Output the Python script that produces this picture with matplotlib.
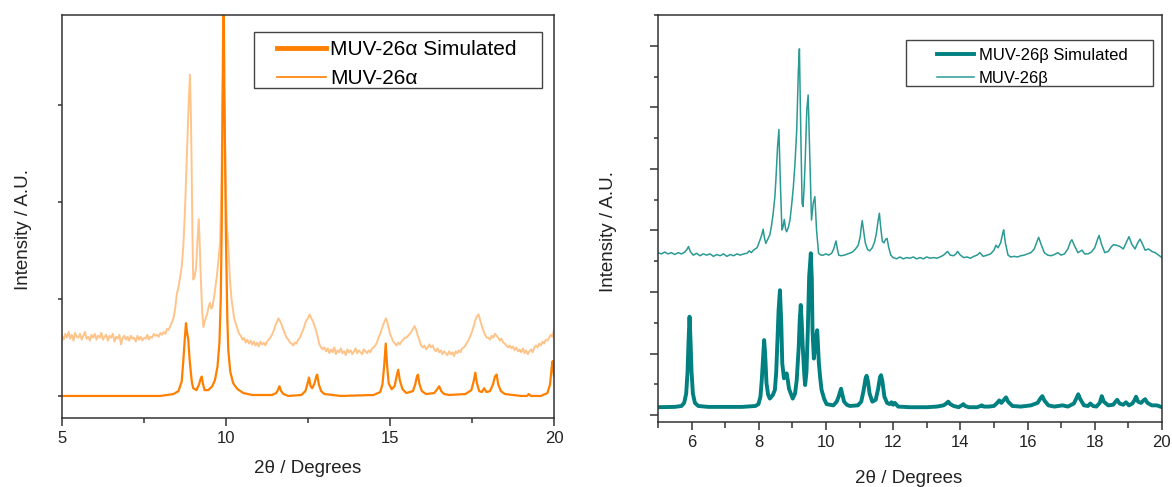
import matplotlib
matplotlib.use("Agg")
import matplotlib.pyplot as plt
from matplotlib.ticker import MultipleLocator
from matplotlib.patches import Rectangle

plt.rcParams['font.family'] = ['Liberation Sans', 'DejaVu Sans']

# ---- MUV-26 alpha (left panel) ----
alpha_sim_x = [5.0, 8.0, 8.4, 8.55, 8.65, 8.7, 8.75, 8.78, 8.81, 8.85, 8.89, 8.92, 8.96, 9.0, 9.1,
               9.18, 9.22, 9.26, 9.3, 9.35, 9.46, 9.58, 9.66, 9.74, 9.8, 9.84, 9.87, 9.9, 9.925,
               9.95, 9.98, 10.0, 10.04, 10.07, 10.13, 10.22, 10.35, 10.53, 10.8, 11.4, 11.53, 11.58,
               11.63, 11.68, 11.75, 11.9, 12.3, 12.42, 12.48, 12.53, 12.58, 12.63, 12.7, 12.75,
               12.78, 12.83, 12.9, 13.0, 13.5, 14.5, 14.7, 14.77, 14.82, 14.87, 14.91, 14.96, 15.05,
               15.14, 15.2, 15.25, 15.3, 15.38, 15.5, 15.7, 15.77, 15.82, 15.85, 15.9, 15.97, 16.1,
               16.35, 16.44, 16.5, 16.56, 16.65, 16.8, 17.3, 17.48, 17.55, 17.6, 17.65, 17.72, 17.8,
               17.87, 17.94, 18.05, 18.14, 18.2, 18.25, 18.3, 18.38, 18.5, 19.0, 19.18, 19.23, 19.3,
               19.6, 19.8, 19.88, 19.93, 19.96, 20.0]
alpha_sim_y = [0.0, 0.0, 0.02, 0.05, 0.15, 0.37, 0.62, 0.75, 0.66, 0.58, 0.38, 0.27, 0.14, 0.08, 0.06,
               0.12, 0.17, 0.2, 0.12, 0.06, 0.06, 0.1, 0.16, 0.3, 0.55, 1.0, 1.75, 3.2, 4.3,
               3.2, 2.2, 1.6, 0.8, 0.47, 0.25, 0.13, 0.07, 0.03, 0.01, 0.01, 0.03, 0.06,
               0.1, 0.05, 0.02, 0.0, 0.01, 0.05, 0.12, 0.19, 0.1, 0.08, 0.13, 0.2,
               0.22, 0.12, 0.05, 0.02, 0.0, 0.01, 0.04, 0.12, 0.3, 0.54, 0.32, 0.13, 0.07,
               0.1, 0.2, 0.27, 0.16, 0.07, 0.03, 0.05, 0.12, 0.2, 0.22, 0.12, 0.05, 0.02,
               0.03, 0.07, 0.1, 0.05, 0.02, 0.01, 0.02, 0.06, 0.15, 0.24, 0.13, 0.05, 0.04,
               0.08, 0.04, 0.05, 0.12, 0.2, 0.22, 0.12, 0.05, 0.02, 0.0, 0.0, 0.02, 0.0,
               0.0, 0.03, 0.12, 0.3, 0.36, 0.2]

alpha_exp_x = [5.0, 5.05, 5.1, 5.15, 5.2, 5.25, 5.3, 5.35, 5.4, 5.45, 5.5, 5.55, 5.6, 5.65, 5.7, 5.75,
               5.8, 5.85, 5.9, 5.95, 6.0, 6.05, 6.1, 6.15, 6.2, 6.25, 6.3, 6.35, 6.4, 6.45, 6.5, 6.55,
               6.6, 6.65, 6.7, 6.75, 6.8, 6.85, 6.9, 6.95, 7.0, 7.05, 7.1, 7.15, 7.2, 7.25, 7.3, 7.35,
               7.4, 7.45, 7.5, 7.55, 7.6, 7.65, 7.7, 7.75, 7.8, 7.85, 7.9, 7.95, 8.0,
               8.05, 8.1, 8.15, 8.2, 8.25, 8.3, 8.35, 8.4, 8.45, 8.5, 8.55, 8.6, 8.65, 8.7, 8.75,
               8.79, 8.82, 8.86, 8.9, 8.93, 8.95, 8.98, 9.0, 9.04, 9.09, 9.13, 9.17, 9.2, 9.23, 9.27,
               9.31, 9.36, 9.43, 9.47, 9.51, 9.55, 9.59, 9.65, 9.72, 9.77, 9.82, 9.86, 9.89, 9.92,
               9.95, 9.99, 10.03, 10.07, 10.12, 10.17, 10.25, 10.33, 10.4, 10.45, 10.5, 10.55, 10.6,
               10.65, 10.7, 10.75, 10.8, 10.85, 10.9, 10.95, 11.0, 11.05, 11.1, 11.15, 11.2, 11.25,
               11.3, 11.35, 11.4, 11.45, 11.5, 11.55, 11.6, 11.65, 11.7, 11.75, 11.8, 11.85, 11.9,
               11.95, 12.0, 12.05, 12.1, 12.15, 12.2, 12.25, 12.3, 12.35, 12.4, 12.45, 12.5, 12.55,
               12.6, 12.65, 12.7, 12.75, 12.8, 12.85, 12.9, 12.95, 13.0,
               13.05, 13.1, 13.15, 13.2, 13.25, 13.3, 13.35, 13.4, 13.45, 13.5, 13.55, 13.6, 13.65,
               13.7, 13.75, 13.8, 13.85, 13.9, 13.95, 14.0, 14.05, 14.1, 14.15, 14.2, 14.25, 14.3,
               14.35, 14.4, 14.45, 14.5,
               14.55, 14.6, 14.65, 14.7, 14.75, 14.8, 14.85, 14.88, 14.92, 14.96, 15.0, 15.05, 15.1,
               15.15, 15.2, 15.25, 15.3, 15.35, 15.4, 15.45, 15.5, 15.55, 15.6, 15.65, 15.7, 15.75,
               15.8, 15.85, 15.9, 15.95, 16.0, 16.05, 16.1, 16.15, 16.2, 16.25, 16.3, 16.35, 16.4,
               16.45, 16.5, 16.55, 16.6, 16.65, 16.7, 16.75, 16.8, 16.85, 16.9, 16.95, 17.0, 17.05,
               17.1, 17.15, 17.2, 17.25, 17.3, 17.35, 17.4, 17.45, 17.5, 17.55, 17.6, 17.65, 17.7,
               17.75, 17.8, 17.85, 17.9, 17.95, 18.0, 18.05, 18.1, 18.15, 18.2, 18.25, 18.3, 18.35,
               18.4, 18.45, 18.5, 18.55, 18.6, 18.65, 18.7, 18.75, 18.8, 18.85, 18.9, 18.95, 19.0,
               19.05, 19.1, 19.15, 19.2, 19.25, 19.3, 19.35, 19.4, 19.45, 19.5, 19.55, 19.6, 19.65,
               19.7, 19.75, 19.8, 19.85, 19.9, 19.95, 20.0]
alpha_exp_y = [0.62, 0.58, 0.64, 0.6, 0.66, 0.59, 0.63, 0.57, 0.65, 0.61, 0.6, 0.64, 0.58, 0.62, 0.66, 0.59,
               0.61, 0.57, 0.63, 0.6, 0.64, 0.58, 0.62, 0.6, 0.65, 0.58, 0.61, 0.63, 0.57, 0.62, 0.6, 0.64,
               0.56, 0.61, 0.59, 0.63, 0.53, 0.6, 0.62, 0.58, 0.61, 0.57, 0.62, 0.59, 0.6, 0.56, 0.62, 0.58,
               0.61, 0.57, 0.6, 0.59, 0.63, 0.58, 0.61, 0.6, 0.64, 0.62, 0.63, 0.61, 0.65,
               0.63, 0.66, 0.64, 0.69, 0.68, 0.72, 0.76, 0.8, 0.9, 1.05, 1.12, 1.22, 1.33, 1.55, 1.92,
               2.3, 2.6, 3.0, 3.31, 2.9, 2.43, 1.6, 1.2, 1.22, 1.33, 1.6, 1.82, 1.55, 1.23, 0.9,
               0.71, 0.78, 0.85, 0.92, 0.96, 0.9, 0.92, 1.05, 1.23, 1.4, 1.58, 2.2, 3.0, 3.5,
               3.0, 2.2, 1.75, 1.54, 1.2, 0.99, 0.8, 0.71, 0.64, 0.62, 0.58, 0.6, 0.55,
               0.58, 0.54, 0.57, 0.53, 0.56, 0.52, 0.55, 0.51, 0.56, 0.53, 0.55, 0.52, 0.56,
               0.58, 0.6, 0.63, 0.67, 0.72, 0.76, 0.8, 0.77, 0.73, 0.68, 0.64, 0.6, 0.58,
               0.55, 0.54, 0.52, 0.55, 0.54, 0.58, 0.6, 0.64, 0.68, 0.73, 0.78, 0.8, 0.84,
               0.8, 0.77, 0.72, 0.67, 0.6, 0.53, 0.5, 0.48, 0.5,
               0.46, 0.49, 0.44, 0.48, 0.45, 0.5, 0.43, 0.47, 0.45, 0.49, 0.44, 0.46, 0.42,
               0.48, 0.45, 0.47, 0.43, 0.46, 0.49, 0.44, 0.47, 0.45, 0.43, 0.48, 0.46, 0.44,
               0.47, 0.45, 0.49, 0.5,
               0.52, 0.55, 0.6, 0.64, 0.69, 0.74, 0.78, 0.8, 0.76, 0.7, 0.64, 0.6, 0.56,
               0.54, 0.52, 0.55, 0.53, 0.56, 0.58, 0.6, 0.6, 0.62, 0.64, 0.66, 0.69, 0.72,
               0.68, 0.62, 0.57, 0.52, 0.5, 0.52, 0.48, 0.5, 0.53, 0.5, 0.52, 0.48, 0.46,
               0.49, 0.45, 0.47, 0.43, 0.46, 0.44, 0.42, 0.46, 0.43, 0.45, 0.41, 0.46, 0.44,
               0.47, 0.45, 0.49, 0.5, 0.52, 0.55, 0.58, 0.62, 0.66, 0.72, 0.78, 0.82, 0.84,
               0.78, 0.72, 0.67, 0.63, 0.6, 0.6, 0.58, 0.62, 0.6, 0.64, 0.62, 0.6, 0.57,
               0.59, 0.55, 0.54, 0.52, 0.5, 0.52, 0.49, 0.51, 0.47, 0.5, 0.46, 0.48, 0.45,
               0.49, 0.44, 0.47, 0.43, 0.46, 0.48, 0.45, 0.5, 0.52, 0.5, 0.54, 0.52, 0.56,
               0.54, 0.58, 0.57, 0.6, 0.63, 0.61, 0.68]

# ---- MUV-26 beta (right panel) ----
beta_sim_x = [5.0, 5.5, 5.7, 5.78, 5.84, 5.88, 5.91, 5.94, 5.97, 6.0, 6.04, 6.1, 6.2, 6.5, 7.5, 7.9,
              7.99, 8.05, 8.09, 8.13, 8.16, 8.19, 8.23, 8.28, 8.33, 8.42, 8.48, 8.52, 8.55, 8.59, 8.63,
              8.67, 8.7, 8.75, 8.79, 8.83, 8.87, 8.9, 9.01, 9.08, 9.13, 9.19, 9.22, 9.25, 9.28, 9.31,
              9.35, 9.38, 9.42, 9.46, 9.5, 9.55, 9.58, 9.6, 9.64, 9.69, 9.74, 9.79, 9.83, 9.87, 9.95,
              10.02, 10.22, 10.32, 10.37, 10.45, 10.49, 10.54, 10.62, 10.71, 10.95, 11.05, 11.12,
              11.18, 11.21, 11.25, 11.3, 11.38, 11.48, 11.55, 11.61, 11.64, 11.68, 11.74, 11.82,
              11.9, 11.95, 12.0, 12.05, 12.15, 12.5, 13.0, 13.3, 13.5, 13.58, 13.64, 13.7, 13.8,
              13.95, 14.04, 14.09, 14.14, 14.25, 14.5, 14.6, 14.64, 14.7, 14.85, 15.0, 15.08, 15.16,
              15.22, 15.3, 15.36, 15.42, 15.55, 15.8, 16.1, 16.3, 16.38, 16.44, 16.5, 16.62, 16.8,
              17.04, 17.2, 17.38, 17.46, 17.51, 17.57, 17.68, 17.8, 17.87, 17.95, 18.05, 18.15,
              18.21, 18.27, 18.4, 18.55, 18.62, 18.67, 18.74, 18.85, 18.93, 19.02, 19.12, 19.18,
              19.23, 19.29, 19.38, 19.45, 19.5, 19.57, 19.7, 19.85, 20.0]
beta_sim_y = [0.13, 0.135, 0.15, 0.2, 0.35, 0.7, 1.2, 1.6, 1.2, 0.7, 0.35, 0.2, 0.15, 0.135, 0.135, 0.15,
              0.18, 0.3, 0.57, 0.95, 1.22, 1.0, 0.52, 0.33, 0.27, 0.33, 0.41, 0.7, 1.11, 1.7, 2.03,
              1.5, 0.84, 0.6, 0.64, 0.68, 0.55, 0.43, 0.27, 0.35, 0.57, 1.11, 1.55, 1.79, 1.5, 1.11,
              0.7, 0.49, 0.7, 1.38, 2.25, 2.63, 2.2, 1.38, 0.92, 1.2, 1.38, 0.84, 0.6, 0.41, 0.26,
              0.18, 0.16, 0.22, 0.29, 0.43, 0.33, 0.22, 0.17, 0.15, 0.16, 0.22, 0.4,
              0.6, 0.64, 0.55, 0.35, 0.22, 0.25, 0.42, 0.62, 0.65, 0.55, 0.3, 0.2,
              0.18, 0.21, 0.17, 0.2, 0.14, 0.13, 0.13, 0.14, 0.16, 0.19, 0.22, 0.18, 0.15,
              0.13, 0.16, 0.18, 0.15, 0.13, 0.13, 0.15, 0.16, 0.14, 0.14, 0.15, 0.19, 0.24,
              0.2, 0.25, 0.29, 0.22, 0.15, 0.14, 0.16, 0.2, 0.27, 0.31, 0.24, 0.16, 0.14,
              0.16, 0.14, 0.19, 0.28, 0.34, 0.26, 0.16, 0.15, 0.19, 0.15, 0.14, 0.2,
              0.31, 0.22, 0.16, 0.17, 0.22, 0.25, 0.19, 0.17, 0.21, 0.16, 0.19, 0.24,
              0.3, 0.22, 0.2, 0.24, 0.26, 0.2, 0.16, 0.16, 0.13]

beta_exp_x = [5.0, 5.1, 5.2, 5.3, 5.4, 5.5, 5.6, 5.7, 5.8, 5.87, 5.91, 5.96, 6.05, 6.15, 6.25, 6.35,
              6.45, 6.55, 6.65, 6.75, 6.85, 6.95, 7.05, 7.15, 7.25, 7.35, 7.45, 7.55, 7.65, 7.72, 7.78,
              7.84, 7.95, 8.04, 8.09, 8.13, 8.17, 8.21, 8.27, 8.33, 8.38, 8.43, 8.48, 8.51, 8.56, 8.6,
              8.64, 8.67, 8.69, 8.72, 8.76, 8.8, 8.83, 8.88, 8.93, 8.98, 9.03, 9.08, 9.13, 9.18, 9.21,
              9.25, 9.29, 9.32, 9.35, 9.38, 9.43, 9.47, 9.52, 9.57, 9.62, 9.67, 9.72, 9.78, 9.85, 9.92,
              10.0, 10.08, 10.17, 10.23, 10.3, 10.34, 10.38, 10.45, 10.55, 10.65, 10.75, 10.81, 10.88,
              10.96, 11.02, 11.05, 11.08, 11.12, 11.17, 11.24, 11.3, 11.38, 11.45, 11.5, 11.55, 11.59,
              11.63, 11.68, 11.73, 11.78, 11.82, 11.87, 11.93, 12.0, 12.1, 12.2, 12.3, 12.4, 12.5,
              12.6, 12.7, 12.8, 12.9, 13.0, 13.1, 13.2, 13.3, 13.4, 13.5, 13.56, 13.62, 13.7, 13.8,
              13.87, 13.92, 14.0, 14.1, 14.2, 14.3, 14.4, 14.5, 14.58, 14.68, 14.8, 14.9, 15.0,
              15.06, 15.12, 15.2, 15.26, 15.29, 15.34, 15.42, 15.5, 15.6, 15.7, 15.8, 15.9, 16.0,
              16.1, 16.2, 16.28, 16.33, 16.4, 16.5, 16.6, 16.7, 16.8, 16.9, 17.0, 17.1, 17.2, 17.28,
              17.32, 17.4, 17.5, 17.62, 17.7, 17.8, 17.9, 18.0, 18.08, 18.13, 18.2, 18.3, 18.4,
              18.5, 18.56, 18.65, 18.75, 18.85, 18.95, 19.02, 19.1, 19.2, 19.28, 19.35, 19.42, 19.5,
              19.6, 19.7, 19.8, 19.9, 20.0]
beta_exp_y = [2.64, 2.62, 2.65, 2.62, 2.64, 2.61, 2.64, 2.62, 2.65, 2.7, 2.74, 2.66, 2.6, 2.63, 2.59, 2.62,
              2.6, 2.62, 2.58, 2.61, 2.59, 2.62, 2.58, 2.61, 2.59, 2.62, 2.6, 2.62, 2.63, 2.67, 2.64,
              2.68, 2.72, 2.85, 2.93, 3.02, 2.88, 2.79, 2.86, 2.93, 3.08, 3.28, 3.55, 3.82, 4.36, 4.64,
              3.82, 3.3, 3.01, 3.05, 3.18, 3.02, 2.98, 3.05, 3.17, 3.42, 3.71, 4.1, 4.63, 5.61, 5.95,
              4.63, 3.44, 3.39, 3.7, 4.09, 4.96, 5.2, 4.2, 3.17, 3.44, 3.55, 3.01, 2.63, 2.6, 2.6,
              2.62, 2.6, 2.63, 2.7, 2.83, 2.7, 2.6, 2.59, 2.6, 2.62, 2.64, 2.66, 2.7,
              2.76, 2.9, 3.05, 3.16, 3.0, 2.8, 2.69, 2.67, 2.72, 2.82, 2.95, 3.15, 3.28,
              3.05, 2.82, 2.8, 2.86, 2.87, 2.72, 2.6, 2.56, 2.54, 2.57, 2.54, 2.56, 2.55,
              2.57, 2.54, 2.56, 2.54, 2.57, 2.55, 2.56, 2.55, 2.57, 2.6, 2.63, 2.66, 2.6, 2.59,
              2.62, 2.66, 2.6, 2.56, 2.57, 2.55, 2.58, 2.6, 2.64, 2.58, 2.6, 2.62, 2.68,
              2.76, 2.72, 2.8, 2.95, 3.01, 2.8, 2.6, 2.57, 2.58, 2.57, 2.59, 2.6, 2.62,
              2.64, 2.7, 2.82, 2.89, 2.78, 2.64, 2.6, 2.59, 2.61, 2.64, 2.6, 2.62, 2.7, 2.82,
              2.85, 2.75, 2.64, 2.68, 2.62, 2.62, 2.65, 2.72, 2.85, 2.92, 2.78, 2.64, 2.66,
              2.74, 2.77, 2.76, 2.74, 2.7, 2.82, 2.9, 2.78, 2.7, 2.8, 2.86, 2.78, 2.68,
              2.7, 2.66, 2.64, 2.6, 2.56]

fig = plt.figure(figsize=(11.72, 4.87), dpi=100)
ax1 = fig.add_axes([0.0529, 0.1417, 0.4198, 0.8285])
ax2 = fig.add_axes([0.5614, 0.1335, 0.4300, 0.8357])

spine_col = '#333333'
txt_col = '#222222'

# left panel
ax1.plot(alpha_exp_x, alpha_exp_y, color='#FFC48A', lw=1.4, label='MUV-26\u03b1')
ax1.plot(alpha_sim_x, alpha_sim_y, color='#FF8000', lw=1.6, label='MUV-26\u03b1 Simulated')
ax1.set_xlim(5, 20)
ax1.set_ylim(-0.227, 3.93)
ax1.xaxis.set_major_locator(MultipleLocator(5))
ax1.xaxis.set_minor_locator(MultipleLocator(2.5))
ax1.set_yticks([0, 1, 2, 3])
ax1.set_yticklabels([])
ax1.tick_params(axis='x', which='major', direction='out', length=6, width=1.1, labelsize=12,
                colors=spine_col, labelcolor=txt_col)
ax1.tick_params(axis='x', which='minor', direction='out', length=3.5, width=1.1, colors=spine_col)
ax1.tick_params(axis='y', which='major', direction='out', length=3, width=1.1, colors=spine_col)
ax1.set_xlabel('2\u03b8 / Degrees', fontsize=13.5, color=txt_col)
ax1.set_ylabel('Intensity / A.U.', fontsize=13.5, color=txt_col)
ax1.xaxis.set_label_coords(0.5, -0.105)
ax1.yaxis.set_label_coords(-0.06, 0.466)
h, l = ax1.get_legend_handles_labels()
leg1 = ax1.legend([h[1], h[0]], [l[1], l[0]], loc='upper left', bbox_to_anchor=(0.437, 0.937),
                  borderaxespad=0, borderpad=0, fontsize=15, frameon=False,
                  handlelength=2.35, labelspacing=0.48, handletextpad=0.2)
leg1.legend_handles[0].set_linewidth(3.5)
leg1.legend_handles[1].set_color('#FF8000')
leg1.legend_handles[1].set_linewidth(1.2)
ax1.add_patch(Rectangle((0.390, 0.818), 0.586, 0.139, transform=ax1.transAxes, fill=False,
                        edgecolor='#444444', lw=1.0, zorder=6))

# right panel
ax2.plot(beta_sim_x, beta_sim_y, color='#008080', lw=2.8, label='MUV-26\u03b2 Simulated')
ax2.plot(beta_exp_x, beta_exp_y, color='#2A9A94', lw=1.1, label='MUV-26\u03b2')
ax2.set_xlim(5, 20)
ax2.set_ylim(-0.11, 6.5)
ax2.set_xticks([6, 8, 10, 12, 14, 16, 18, 20])
ax2.xaxis.set_minor_locator(MultipleLocator(1))
ax2.yaxis.set_major_locator(MultipleLocator(1))
ax2.yaxis.set_minor_locator(MultipleLocator(0.5))
ax2.set_yticklabels([])
ax2.tick_params(axis='x', which='major', direction='out', length=6, width=1.1, labelsize=12,
                colors=spine_col, labelcolor=txt_col)
ax2.tick_params(axis='x', which='minor', direction='out', length=4, width=1.1, colors=spine_col)
ax2.tick_params(axis='y', which='major', direction='out', length=6, width=1.1, colors=spine_col)
ax2.tick_params(axis='y', which='minor', direction='out', length=3, width=1.1, colors=spine_col)
ax2.set_xlabel('2\u03b8 / Degrees', fontsize=13.5, color=txt_col)
ax2.set_ylabel('Intensity / A.U.', fontsize=13.5, color=txt_col)
ax2.xaxis.set_label_coords(0.498, -0.118)
ax2.yaxis.set_label_coords(-0.081, 0.467)
leg2 = ax2.legend(loc='upper left', bbox_to_anchor=(0.5536, 0.919), borderaxespad=0, borderpad=0,
                  fontsize=12, frameon=False, handlelength=2.2, labelspacing=0.48,
                  handletextpad=0.3)
ax2.add_patch(Rectangle((0.492, 0.8256), 0.490, 0.113, transform=ax2.transAxes, fill=False,
                        edgecolor='#444444', lw=1.0, zorder=6))

for ax in (ax1, ax2):
    for s in ax.spines.values():
        s.set_color(spine_col)
        s.set_linewidth(1.1)

fig.savefig('out.png', dpi=100)
